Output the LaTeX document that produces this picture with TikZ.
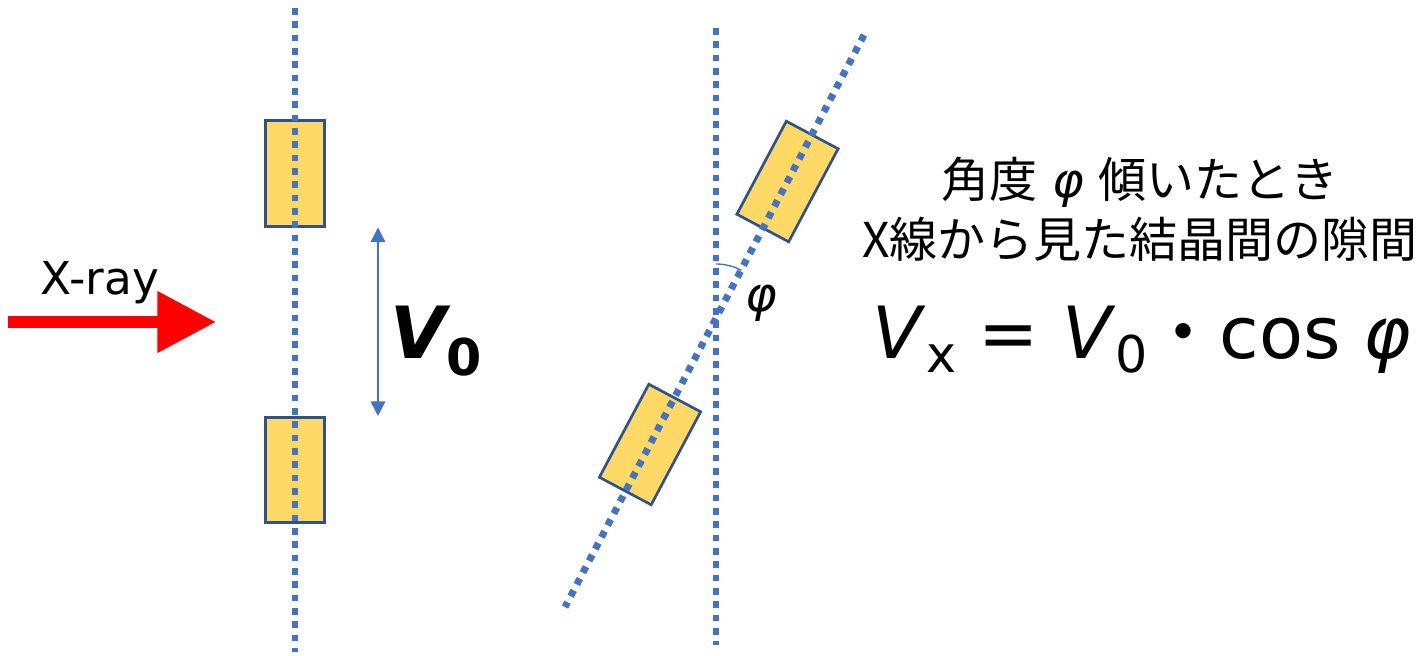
\documentclass[tikz,border=0pt]{standalone}
\usepackage{fontspec}
\setmainfont{DejaVu Sans}
\newfontfamily\jpfont{Noto Sans CJK JP}
\usepackage{xcolor}
\usetikzlibrary{arrows.meta,calc,positioning}
\definecolor{dotblue}{HTML}{4472C4}
\definecolor{crysedge}{HTML}{2F528F}
\definecolor{crysfill}{HTML}{FFD966}
\newcommand\lowsub[2][11pt]{\lower#1\hbox{\fontsize{38pt}{38pt}\selectfont #2}}

\begin{document}
\begin{tikzpicture}[x=0.75pt,y=-0.75pt,
  dotline/.style={dotblue,line width=5.2pt,dash pattern=on 5pt off 5pt},
  crystal/.style={draw=crysedge,fill=crysfill,line width=2pt,minimum width=44pt,minimum height=79pt,inner sep=0pt},
  gap/.style={dotblue,line width=1.1pt,{Triangle[width=11pt,length=11pt]}-{Triangle[width=11pt,length=11pt]}},
  xray/.style={red,line width=9pt,-{Triangle[width=44pt,length=44pt]}}]
  \useasboundingbox (0,0) rectangle (1424,656);
  \node[crystal] (crysA) at (295,173.5) {};
  \node[crystal] (crysB) at (295,470) {};
  \node[crystal,rotate=-28] (crysC) at (787.5,181.5) {};
  \node[crystal,rotate=-28] (crysD) at (650,444.5) {};
  \coordinate (lineTop) at (295,8);
  \coordinate (lineBot) at (295,652);
  \coordinate (axisTop) at (716,28);
  \coordinate (axisBot) at (716,645);
  \coordinate (tiltTop) at (864,35);
  \coordinate (tiltBot) at (565,607);
  \coordinate (pivot) at (716,318);
  \coordinate (gapx) at (378,0);
  \draw[dotline] (lineTop) -- (lineBot);
  \draw[dotline] (axisTop) -- (axisBot);
  \draw[dotline] (tiltTop) -- (tiltBot);
  \draw[gap] (crysA.south -| gapx) -- (crysB.north -| gapx);
  \node[anchor=base,font=\bfseries\itshape\fontsize{54pt}{54pt}\selectfont] (vzero) at (436,358) {V\lowsub[13pt]{\bfseries\upshape 0}};
  \coordinate (raySrc) at (8,322);
  \coordinate (rayTip) at (216,322);
  \draw[xray] (raySrc) -- (rayTip);
  \node[anchor=base,font=\fontsize{34pt}{34pt}\selectfont] (xlabel) at (100,294) {X-ray};
  \draw[dotblue,line width=1pt] ($(pivot)+(0,-54)$) arc[start angle=-90,end angle=-62,radius=54];
  \node[font=\itshape\fontsize{36pt}{36pt}\selectfont] (phi) at (761,303) {φ};
  \node[align=center,font=\jpfont\fontsize{36pt}{45pt}\selectfont] (caption) at (1140,209) {角度\hspace{0.3em}{\normalfont\itshape φ}\hspace{0.3em}傾いたとき\\X線から見た結晶間の隙間};
  \node[anchor=base,font=\fontsize{54pt}{54pt}\selectfont] (formula) at (1142,358) {\textit{V}\lowsub{x} = \textit{V}\lowsub{0}{\jpfont ・}cos \textit{φ}};
\end{tikzpicture}
\end{document}
